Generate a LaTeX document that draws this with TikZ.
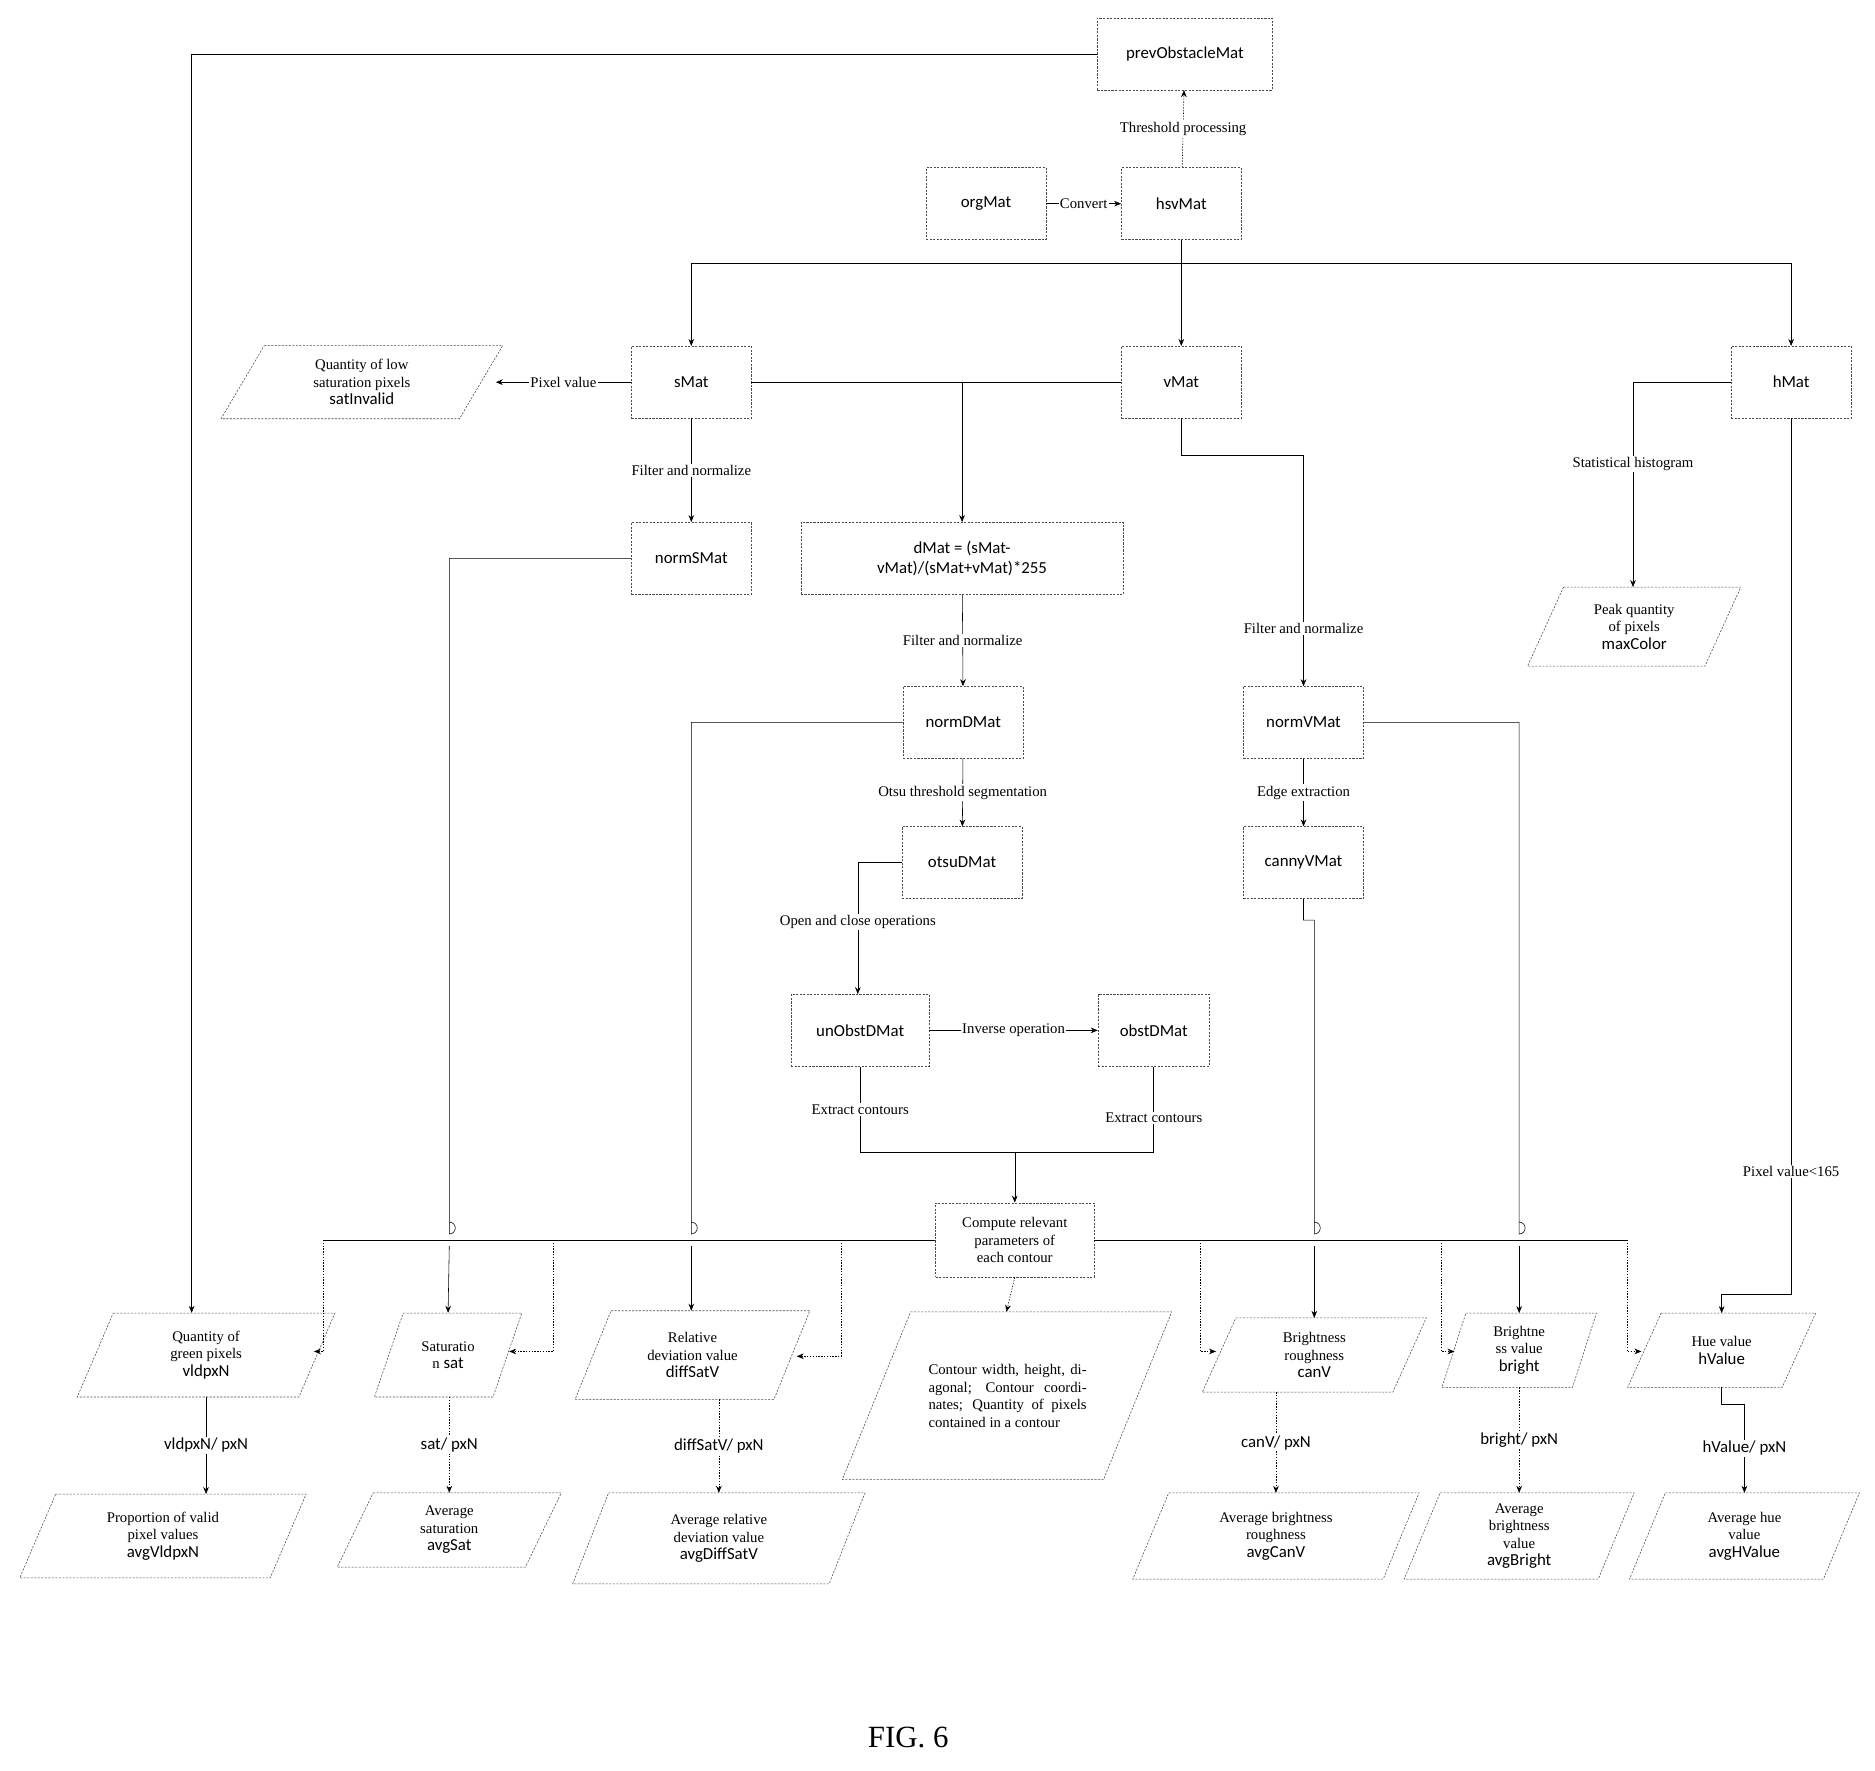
\documentclass[tikz,border=0pt]{standalone}
\usepackage{fontspec}
\setmainfont{Liberation Serif}
\newfontfamily\nm{Carlito}
\usetikzlibrary{arrows.meta,calc}
\begin{document}
\begin{tikzpicture}[x=0.03cm,y=-0.03cm,
 box/.style={draw=black!70,dash pattern=on 1.5pt off 1pt,thin,minimum width=#1*0.03cm,minimum height=1.8cm,font=\nm\fontsize{12}{14}\selectfont,align=center,inner sep=1pt},
 box/.default=100,
 pin/.style={inner sep=0pt,minimum width=#1*0.03cm,font=\fontsize{10.5}{12.5}\selectfont,align=center},
 lbl/.style={fill=white,inner sep=1pt,font=\fontsize{10.5}{12}\selectfont},
 sl/.style={fill=white,inner sep=1pt,font=\nm\fontsize{12}{14}\selectfont},
 ar/.style={-{Stealth[length=5pt,width=4pt]},thin},
 ln/.style={thin},
 da/.style={ar,dash pattern=on 1pt off 1pt},
 pl/.style={draw=black!70,thin,dash pattern=on 1.5pt off 1pt}]
\useasboundingbox (0,0) rectangle (1565,1478);
\newcommand\para[7]{% name x y w h text slant
 \draw[pl] ({#2-#4/2+#7},{#3-#5/2}) -- ({#2+#4/2},{#3-#5/2}) -- ({#2+#4/2-#7},{#3+#5/2}) -- ({#2-#4/2},{#3+#5/2}) -- cycle;
 \node[pin=#4-#7-10,minimum height=#5*0.03cm] (#1) at (#2,#3) {#6};}
\newcommand\nmt[1]{{\nm\fontsize{12}{14}\selectfont #1}}
% boxes
\node[box=146] (prev) at (989,45) {prevObstacleMat};
\node[box] (org) at (823,170) {orgMat};
\node[box] (hsv) at (986,170) {hsvMat};
\node[box] (s) at (577,319) {sMat};
\node[box] (v) at (986,319) {vMat};
\node[box] (h) at (1495,319) {hMat};
\node[box] (ns) at (577,466) {normSMat};
\node[box=269] (d) at (803,466) {dMat = (sMat-\\vMat)/(sMat+vMat)*255};
\node[box] (nv) at (1088,603) {normVMat};
\node[box] (nd) at (804,603) {normDMat};
\node[box] (od) at (803,720) {otsuDMat};
\node[box] (cv) at (1088,720) {cannyVMat};
\node[box=115] (uo) at (718,860) {unObstDMat};
\node[box=93] (ob) at (963,860) {obstDMat};
\node[draw=black!70,dash pattern=on 1.5pt off 1pt,thin,minimum width=132*0.03cm,minimum height=62*0.03cm,align=center,inner sep=1pt,font=\fontsize{10.5}{12.5}\selectfont] (cp) at (847,1035) {Compute relevant\\parameters of\\each contour};
% parallelograms
\para{si}{302}{319}{235}{61}{Quantity of low\\saturation pixels\\\nmt{satInvalid}}{36}
\para{mc}{1364}{523}{178}{66}{Peak quantity\\of pixels\\\nmt{maxColor}}{30}
\para{vl}{172}{1131}{215}{70}{Quantity of\\green pixels\\\nmt{vldpxN}}{30}
\para{sa}{374}{1131}{123}{70}{Saturatio\\n \nmt{sat}}{24}
\para{df}{578}{1131}{196}{74}{Relative\\deviation value\\\nmt{diffSatV}}{30}
\draw[pl] (760,1095) -- (978,1095) -- (921,1235) -- (703,1235) -- cycle;
\node[text width=132*0.03cm,align=justify,font=\fontsize{10.5}{12.5}\selectfont,inner sep=0pt] (ct) at (841,1165) {Contour width, height, diagonal; Contour coordinates; Quantity of pixels contained in a contour};
\para{cn}{1097}{1131}{187}{62}{Brightness\\roughness\\\nmt{canV}}{28}
\para{br}{1268}{1127}{129}{62}{Brightne\\ss value\\\nmt{bright}}{20}
\para{hv}{1437}{1127}{157}{62}{Hue value\\\nmt{hValue}}{28}
\para{avl}{136}{1282}{239}{70}{Proportion of valid\\pixel values\\\nmt{avgVldpxN}}{30}
\para{asa}{375}{1277}{187}{62}{Average\\saturation\\\nmt{avgSat}}{30}
\para{adf}{600}{1284}{244}{76}{Average relative\\deviation value\\\nmt{avgDiffSatV}}{30}
\para{acn}{1065}{1282}{239}{72}{Average brightness\\roughness\\\nmt{avgCanV}}{30}
\para{abr}{1268}{1282}{192}{72}{Average\\brightness\\value\\\nmt{avgBright}}{30}
\para{ahv}{1456}{1282}{192}{72}{Average hue\\value\\\nmt{avgHValue}}{30}
% connectors
\draw[da] (hsv) -- node[lbl]{Threshold processing} (prev);
\draw[ar] (org) -- node[lbl]{Convert} (hsv);
\draw[ar] (prev.west) -| (vl.north -| 160,0);
\draw[ln] (hsv.south) -- (986,220);
\draw[ar] (577,220) -- (1495,220) -- (h.north);
\draw[ar] (577,220) -- (s.north);
\draw[ar] (986,220) -- (v.north);
\draw[ar] (s) -- node[lbl]{Pixel value} (si);
\draw[ln] (s) -- (v);
\draw[ar] (803,319) -- (d.north);
\draw[ar] (s) -- node[lbl]{Filter and normalize} (ns);
\draw[ln] (ns.west) -- (375,466) -- (375,1030) arc[start angle=90,end angle=-90,radius=5];
\draw[ar] (375,1040) -- (sa.north);
\draw[ar] (d) -- node[lbl]{Filter and normalize} (nd);
\draw[ar] (v.south) -- (986,380) -- (1088,380) -- node[lbl,pos=0.75]{Filter and normalize} (nv.north);
\draw[ar] (h.west) -- (1363,319) -- node[lbl,pos=0.4]{Statistical histogram} (1363,490);
\draw[ar] (h.south) -- node[lbl,pos=0.86]{Pixel value<165} (1495,1080) -- (1437,1080) -- (1437,1096);
\draw[ln] (nd.west) -- (577,603) -- (577,1030) arc[start angle=90,end angle=-90,radius=5];
\draw[ar] (577,1040) -- (577,1094);
\draw[ar] (nd) -- node[lbl]{Otsu threshold segmentation} (od);
\draw[ar] (od.west) -- (716,720) -- node[lbl,pos=0.45]{Open and close operations} (uo.north -| 716,0);
\draw[ar] (uo) -- node[lbl]{Inverse operation} (ob);
\draw[ln] (uo.south) -- node[lbl,pos=0.5]{Extract contours} (718,962) -- (963,962) -- node[lbl,pos=0.4]{Extract contours} (ob.south);
\draw[ar] (847,962) -- (cp.north);
\draw[ar] (nv) -- node[lbl]{Edge extraction} (cv);
\draw[ln] (nv.east) -- (1268,603) -- (1268,1030) arc[start angle=90,end angle=-90,radius=5];
\draw[ar] (1268,1040) -- (1268,1096);
\draw[ln] (cv.south) -- (1088,768) -- (1097,768) -- (1097,1030) arc[start angle=90,end angle=-90,radius=5];
\draw[ar] (1097,1040) -- (1097,1100);
% contour distribution line
\draw[ln] (cp.west) -- (270,1035);
\draw[ln] (cp.east) -- (1358,1035);
\draw[da] (270,1035) -- (270,1128) -- (262,1128);
\draw[da] (462,1035) -- (462,1128) -- (425,1128);
\draw[da] (702,1035) -- (702,1132) -- (665,1132);
\draw[da] (1002,1035) -- (1002,1128) -- (1015,1128);
\draw[da] (1203,1035) -- (1203,1128) -- (1214,1128);
\draw[da] (1358,1035) -- (1358,1128) -- (1370,1128);
\draw[da] (cp.south) -- (840,1095);
% bottom
\draw[ar] (172,1166) -- node[sl]{vldpxN/ pxN} (172,1247);
\draw[da] (375,1166) -- node[sl]{sat/ pxN} (375,1246);
\draw[da] (600,1168) -- node[sl]{diffSatV/ pxN} (600,1246);
\draw[da] (1065,1162) -- node[sl]{canV/ pxN} (1065,1246);
\draw[da] (1268,1158) -- node[sl]{bright/ pxN} (1268,1246);
\draw[ln] (1437,1158) -- (1437,1172) -- (1456,1172);
\draw[ar] (1456,1172) -- node[sl]{hValue/ pxN} (1456,1246);
\node[font=\fontsize{22}{26}\selectfont] at (758,1450) {FIG. 6};
\end{tikzpicture}
\end{document}
